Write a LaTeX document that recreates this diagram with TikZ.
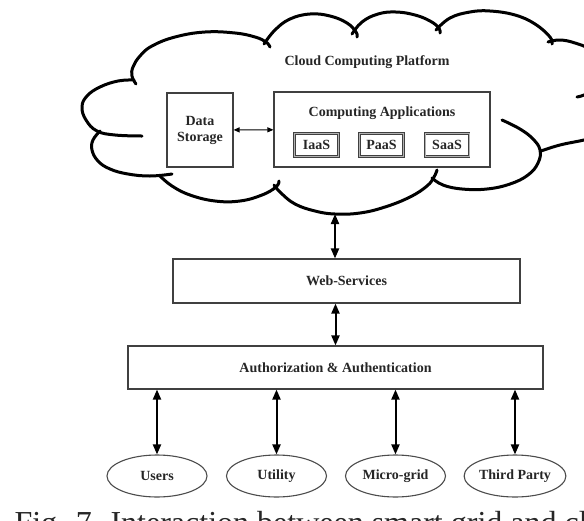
\documentclass[tikz,border=0pt]{standalone}
\usepackage{fontspec}
\setmainfont{Liberation Serif}
\usetikzlibrary{arrows.meta,shapes.geometric}
\begin{document}
\begin{tikzpicture}[x=1pt,y=-1pt,
 lbl/.style={font=\bfseries\fontsize{14}{16}\selectfont, text=black!85},
 boxn/.style={draw=black!75, line width=1.1pt, inner sep=0pt},
 sbox/.style={draw=black!75, line width=0.8pt, double=black!30, double distance=0.8pt, minimum width=44pt, minimum height=23pt, inner sep=0pt, lbl},
 ell/.style={draw=black!70, line width=1.1pt, ellipse, minimum width=100pt, minimum height=42pt, inner sep=0pt, lbl},
 cl/.style={line width=3pt, line cap=round, line join=round},
 big/.style={line width=2pt, {Triangle[length=10pt,width=8pt]}-{Triangle[length=10pt,width=8pt]}},
 small/.style={line width=1pt, {Triangle[length=6pt,width=5pt]}-{Triangle[length=6pt,width=5pt]}},
]
\useasboundingbox (0,0) rectangle (584,520);
\clip (0,0) rectangle (584,520);
\fill[white] (0,0) rectangle (584,520);

% cloud outline
\draw[cl] plot[smooth, tension=0.7] coordinates {(136,84) (132,76) (133,67) (140,56) (152,46) (175,37) (205,32) (235,33) (255,37) (266,42) (270,47)};
\draw[cl] plot[smooth, tension=0.7] coordinates {(264,44) (275,30) (290,19) (310,14) (330,16) (347,23) (356,32) (357,37)};
\draw[cl] plot[smooth, tension=0.7] coordinates {(352,34) (362,22) (378,14) (396,12) (415,15) (430,21) (439,28) (440,33)};
\draw[cl] plot[smooth, tension=0.7] coordinates {(436,30) (450,18) (470,12) (490,11) (515,15) (535,24) (550,37) (552,44)};
\draw[cl] plot[smooth, tension=0.7] coordinates {(548,42) (560,40) (575,43) (590,50) (600,65) (598,82) (588,93) (577,97)};
\draw[cl] plot[smooth, tension=0.7] coordinates {(590,90) (605,105) (608,122) (598,136) (584,140) (560,145) (541,151)};
\draw[cl] plot[smooth, tension=0.7] coordinates {(502,120) (520,129) (533,139) (540,150) (538,163) (528,175) (510,184) (487,189) (462,189) (443,185) (432,178)};
\draw[cl] plot[smooth, tension=0.7] coordinates {(274,185) (281,193) (295,204) (315,211) (335,214) (360,213) (385,207) (410,197) (427,186) (434,177) (437,170)};
\draw[cl] plot[smooth, tension=0.7] coordinates {(160,176) (172,186) (190,195) (215,201) (240,201) (262,195) (276,187) (279,181)};
\draw[cl] plot[smooth, tension=0.7] coordinates {(100,131) (93,140) (92,150) (98,161) (110,169) (128,174) (150,176) (172,174)};
\draw[cl] plot[smooth, tension=0.7] coordinates {(134,80) (118,81) (100,87) (87,96) (82,107) (86,120) (97,131) (115,135) (142,136)};

\node[lbl] (title) at (367,62) {Cloud Computing Platform};
\coordinate (cb) at (335,214);

\node[boxn, minimum width=66pt, minimum height=74pt, lbl, align=center] (ds) at (200,130) {Data\\Storage};
\node[boxn, minimum width=216pt, minimum height=75pt] (ca) at (382,129.5) {};
\node[lbl] (catitle) at (382,113) {Computing Applications};
\node[sbox] (iaas) at (316.5,145) {IaaS};
\node[sbox] (paas) at (381.5,145) {PaaS};
\node[sbox] (saas) at (447,145) {SaaS};
\draw[small] (ds) -- (ca);

\node[boxn, minimum width=347pt, minimum height=44pt, lbl] (ws) at (346.5,281) {Web-Services};
\node[boxn, minimum width=415pt, minimum height=43pt, lbl] (auth) at (335.5,367.5) {Authorization \& Authentication};

\node[ell] (users) at (157,476) {Users};
\node[ell] (utility) at (276.5,476) {Utility};
\node[ell] (micro) at (395.5,476) {Micro-grid};
\node[ell] (third) at (515,476) {Third Party};

\draw[big] (cb) -- (cb |- ws.north);
\draw[big] (auth.north |- ws.south) -- (auth.north);
\foreach \n in {users,utility,micro,third}
  \draw[big] (\n.north |- auth.south) -- (\n.north);

\node[anchor=base west, font=\fontsize{32}{32}\selectfont, text=black!85] (cap) at (11,533) {Fig. 7. Interaction between smart grid and cloud computing};
\end{tikzpicture}
\end{document}
